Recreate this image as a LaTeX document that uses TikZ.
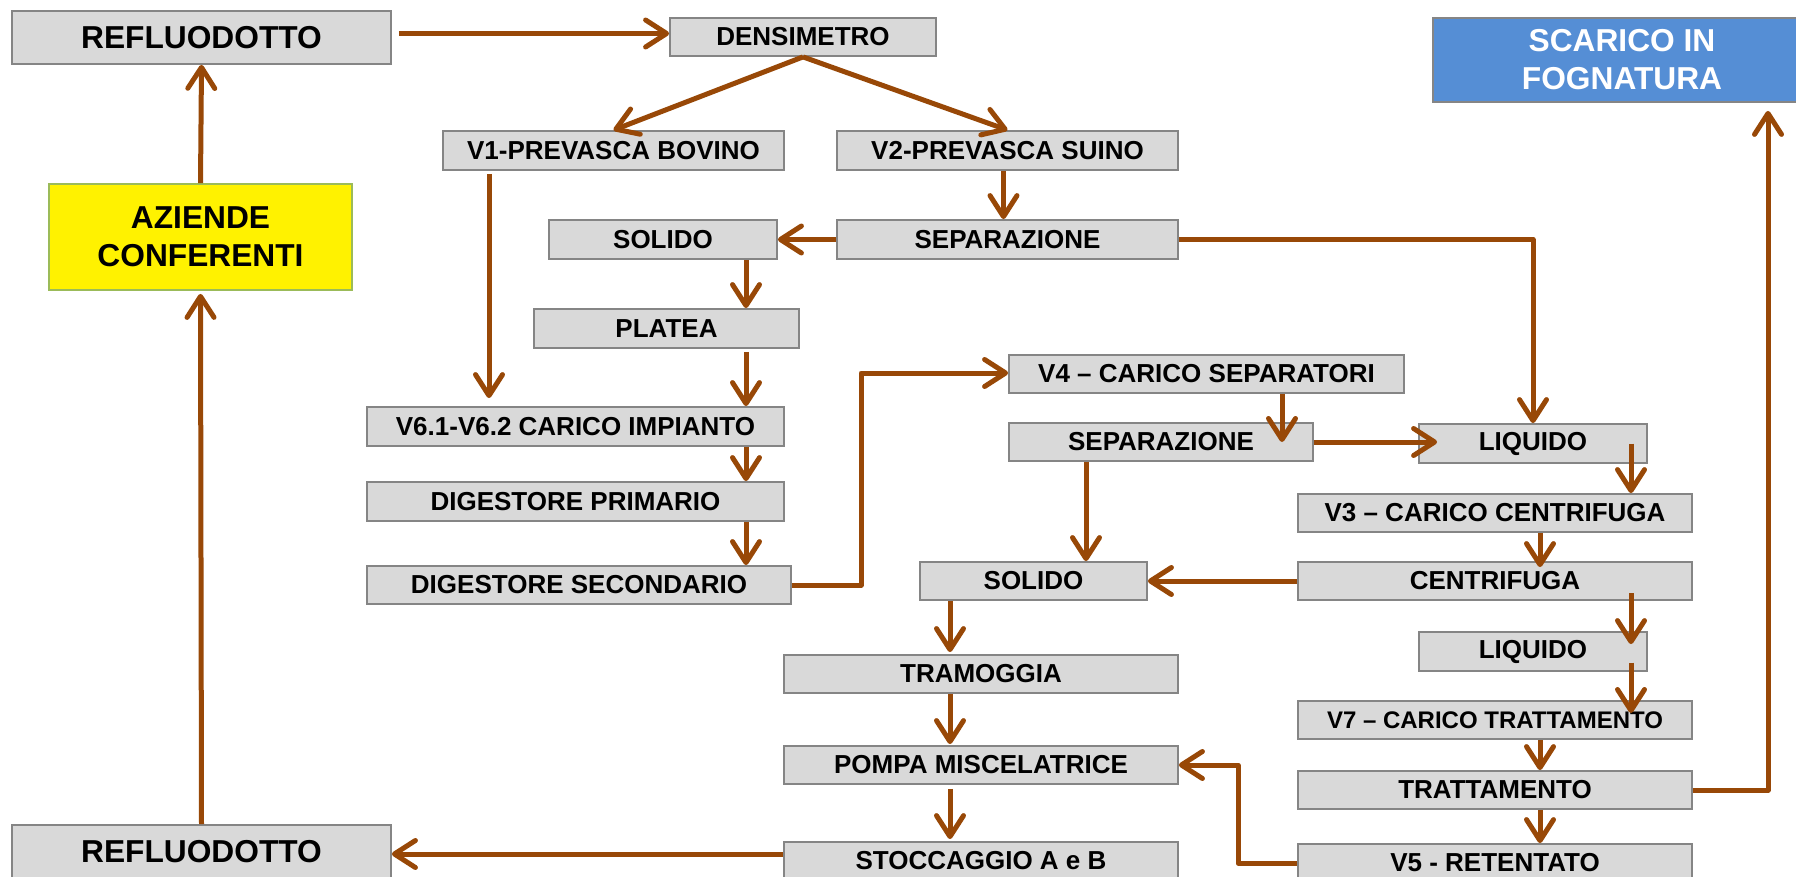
\documentclass[tikz,border=0pt]{standalone}
\usepackage{fontspec}
\setmainfont{Liberation Sans}
\usetikzlibrary{arrows.meta}
\definecolor{arrbrown}{HTML}{984807}
\definecolor{boxgray}{HTML}{D9D9D9}
\definecolor{bordergray}{HTML}{858585}
\definecolor{olivebd}{HTML}{9BBB59}
\definecolor{bluefill}{HTML}{558ED5}
\tikzset{
  box/.style={draw=bordergray, fill=boxgray, line width=1.8pt, inner sep=0pt, minimum height=39pt,
    font=\bfseries\fontsize{26}{30}\selectfont, text=black},
  bigbox/.style={box, font=\bfseries\fontsize{31.7}{38}\selectfont, align=center},
  arr/.style={draw=arrbrown, line width=5pt, line join=round,
    -{Straight Barb[length=21pt,width=27pt,round]}},
  ln/.style={draw=arrbrown, line width=5pt, line join=round}
}
\begin{document}
\begin{tikzpicture}[x=1pt,y=-1pt]
\useasboundingbox (0,0) rectangle (1796,877);
% nodes
\node[bigbox, minimum width=379pt, minimum height=53pt] (ref1) at (201.5,37.5) {REFLUODOTTO};
\node[bigbox, draw=olivebd, fill=yellow, minimum width=303pt, minimum height=106pt] (az) at (200.5,237) {AZIENDE\\CONFERENTI};
\node[bigbox, minimum width=379pt, minimum height=53pt] (ref2) at (201.5,851.5) {REFLUODOTTO};
\node[box, minimum width=266pt, minimum height=38pt] (dens) at (803,37) {DENSIMETRO};
\node[box, minimum width=341pt] (v1) at (613.5,150.5) {V1-PREVASCA BOVINO};
\node[box, minimum width=341pt] (v2) at (1007.5,150.5) {V2-PREVASCA SUINO};
\node[box, minimum width=341pt] (sep1) at (1007.5,239.5) {SEPARAZIONE};
\node[box, minimum width=228pt] (sol1) at (663,239.5) {SOLIDO};
\node[box, minimum width=265pt] (pl) at (666.5,328.5) {PLATEA};
\node[box, minimum width=417pt] (v6) at (575.5,426.5) {V6.1-V6.2 CARICO IMPIANTO};
\node[box, minimum width=417pt] (dp) at (575.5,501.5) {DIGESTORE PRIMARIO};
\node[box, minimum width=424pt, minimum height=38pt] (ds) at (579,585) {DIGESTORE SECONDARIO};
\node[box, minimum width=395pt, minimum height=38pt] (v4) at (1206.5,374) {V4 – CARICO SEPARATORI};
\node[box, minimum width=304pt, minimum height=38pt] (sep2) at (1161,442) {SEPARAZIONE};
\node[box, minimum width=228pt] (liq1) at (1533,443.5) {LIQUIDO};
\node[box, minimum width=394pt, minimum height=38pt] (v3) at (1495,513) {V3 – CARICO CENTRIFUGA};
\node[box, minimum width=394pt, minimum height=38pt] (cen) at (1495,581) {CENTRIFUGA};
\node[box, minimum width=227pt, minimum height=38pt] (sol2) at (1033.5,581) {SOLIDO};
\node[box, minimum width=228pt] (liq2) at (1533,651.5) {LIQUIDO};
\node[box, minimum width=394pt, minimum height=38pt, font=\bfseries\fontsize{24}{28}\selectfont] (v7) at (1495,720) {V7 – CARICO TRATTAMENTO};
\node[box, minimum width=394pt, minimum height=38pt] (tr) at (1495,790) {TRATTAMENTO};
\node[box, minimum width=394pt, minimum height=38pt] (v5) at (1495,863) {V5 - RETENTATO};
\node[box, minimum width=394pt, minimum height=38pt] (tram) at (981,674) {TRAMOGGIA};
\node[box, minimum width=394pt, minimum height=38pt] (pompa) at (981,765) {POMPA MISCELATRICE};
\node[box, minimum width=394pt, minimum height=38pt] (stocc) at (981,861) {STOCCAGGIO A e B};
\node[bigbox, fill=bluefill, text=white, minimum width=378pt, minimum height=84pt] (scar) at (1622,60) {SCARICO IN\\FOGNATURA};
% helper x positions
\coordinate (xa) at (746,0);
\coordinate (xb) at (489,0);
\coordinate (xc) at (861,0);
\coordinate (xd) at (1282,0);
\coordinate (xe) at (1631,0);
\coordinate (xf) at (1540,0);
\coordinate (xg) at (1768,0);
\coordinate (xh) at (1238,0);
\coordinate (xi) at (950,0);
\coordinate (xj) at (1086,0);
% connectors
\draw[arr] ([xshift=7pt,yshift=4pt]ref1.east) -- ([yshift=4pt]ref1.east -| dens.west);
\draw[arr] (dens.south) -- (v1.north);
\draw[arr] (dens.south) -- (v2.north);
\draw[arr] ([xshift=-4pt]v2.south) -- ([xshift=-4pt]sep1.north);
\draw[arr] (sep1.west) -- (sol1.east);
\draw[arr] (xa |- sol1.south) -- (xa |- pl.north);
\draw[arr] ([yshift=-3pt]xa |- pl.south) -- (xa |- v6.north);
\draw[arr] (xa |- v6.south) -- (xa |- dp.north);
\draw[arr] (xa |- dp.south) -- (xa |- ds.north);
\draw[arr] ([yshift=-3pt]xb |- v1.south) -- ([yshift=8pt]xb |- v6.north);
\draw[arr] (ds.east) -- (xc |- ds.east) -- ([yshift=1pt]xc |- v4.west) -- ([yshift=1pt]v4.west);
\draw[arr] (sep1.east) -| (liq1.north);
\draw[arr] (xd |- v4.south) -- (xd |- sep2.center);
\draw[arr] (sep2.east) -- ([xshift=19pt]liq1.west |- sep2.east);
\draw[arr] (xe |- liq1.center) -- (xe |- v3.north);
\draw[arr] (xf |- v3.south) -- ([yshift=-6pt]xf |- cen.north);
\draw[arr] (cen.west) -- (sol2.east);
\draw[arr] ([yshift=-12pt]xe |- cen.center) -- ([yshift=-13pt]xe |- liq2.north);
\draw[arr] ([yshift=-11pt]xe |- liq2.center) -- ([yshift=7pt]xe |- v7.center);
\draw[arr] (xf |- v7.south) -- (xf |- tr.north);
\draw[arr] (xf |- tr.south) -- (xf |- v5.north);
\draw[arr] (tr.east) -| ([yshift=-8pt]xg |- scar.south);
\draw[arr] (v5.west) -- (xh |- v5.west) -- (xh |- pompa.east) -- (pompa.east);
\draw[arr] (xj |- sep2.south) -- (xj |- sol2.north);
\draw[arr] (xi |- sol2.south) -- ([yshift=2pt]xi |- tram.north);
\draw[arr] (xi |- tram.south) -- ([yshift=1pt]xi |- pompa.north);
\draw[arr] ([yshift=-4pt]xi |- pompa.south) -- ([yshift=2pt]xi |- stocc.north);
\draw[arr] ([yshift=7pt]stocc.west) -- ([yshift=7pt]stocc.west -| ref2.east);
\draw[arr] (ref2.north) -- ([yshift=-3pt]az.south);
\draw[arr] (az.north) -- (ref1.south);
\end{tikzpicture}
\end{document}
